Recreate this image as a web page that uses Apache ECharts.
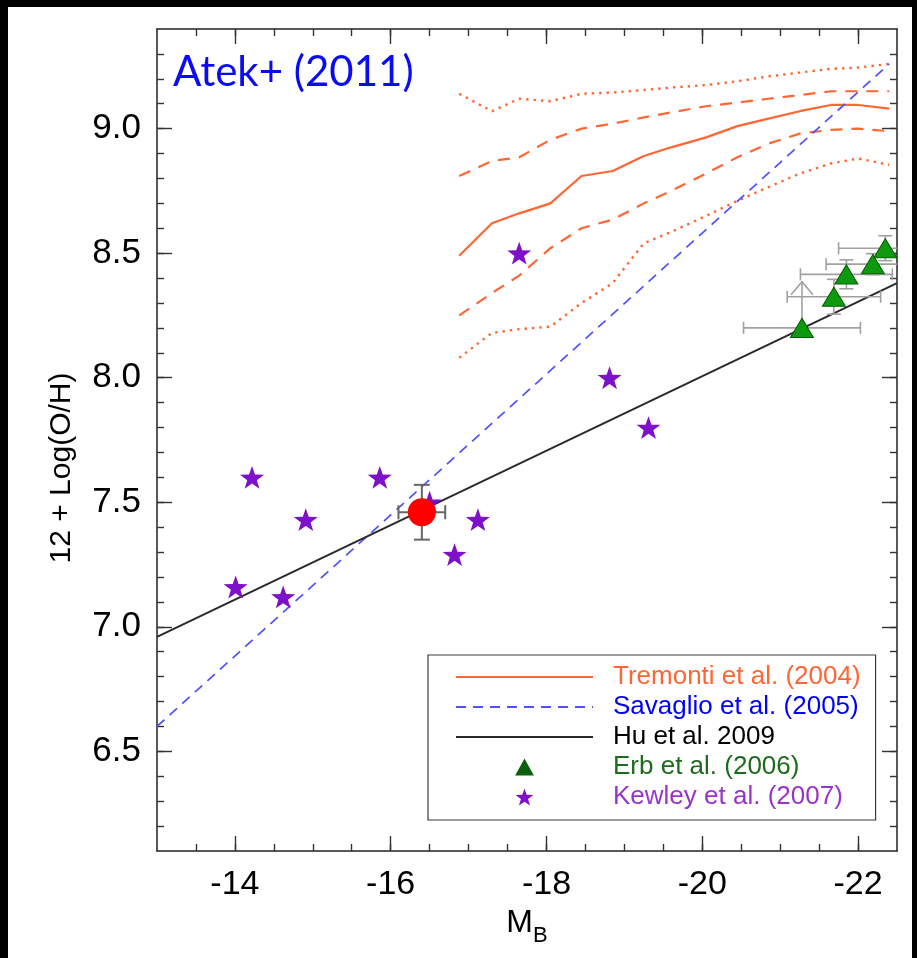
<!DOCTYPE html>
<html>
<head>
<meta charset="utf-8">
<script src="https://cdn.jsdelivr.net/npm/echarts@6/dist/echarts.min.js"></script>
<style>
  html, body { margin: 0; padding: 0; background: #000; width: 917px; height: 958px; overflow: hidden; }
  #chart { position: absolute; left: 8px; top: 7px; width: 904px; height: 951px; background: #fff; }
</style>
</head>
<body>
<div id="chart"></div>
<script>
// ---- Tick labels ----
const xTickValues = [-14, -16, -18, -20, -22];
const yTickValues = [6.5, 7.0, 7.5, 8.0, 8.5, 9.0];

// ---- Tremonti et al. (2004) SDSS relation: median, +/-1 sigma (dashed), +/-2 sigma (dotted) ----
const tremontiMB      = [-16.88, -17.3, -17.65, -18.05, -18.45, -18.85, -19.25, -19.6, -20.05, -20.45, -20.85, -21.25, -21.65, -22.0, -22.4];
const tremontiMedian  = [8.49, 8.62, 8.66, 8.70, 8.81, 8.83, 8.89, 8.925, 8.965, 9.01, 9.04, 9.07, 9.095, 9.095, 9.08];
const tremontiUp1     = [8.81, 8.87, 8.885, 8.955, 9.00, 9.02, 9.045, 9.065, 9.09, 9.105, 9.12, 9.135, 9.15, 9.15, 9.15];
const tremontiUp2     = [9.14, 9.07, 9.12, 9.11, 9.14, 9.145, 9.155, 9.165, 9.175, 9.19, 9.21, 9.225, 9.24, 9.245, 9.26];
const tremontiLo1     = [8.25, 8.34, 8.41, 8.52, 8.60, 8.635, 8.70, 8.75, 8.82, 8.885, 8.94, 8.98, 8.995, 9.0, 8.99];
const tremontiLo2     = [8.08, 8.18, 8.195, 8.205, 8.30, 8.38, 8.54, 8.585, 8.65, 8.71, 8.765, 8.82, 8.86, 8.88, 8.855];

// ---- Savaglio et al. (2005) and Hu et al. (2009) linear fits (end points) ----
const savaglioMB = [-13.0, -22.4];
const savaglioOH = [6.60, 9.26];
const huMB = [-13.0, -22.5];
const huOH = [6.96, 8.38];

// ---- Erb et al. (2006) stacks ----
const erbMB    = [-21.28, -21.69, -21.85, -22.19, -22.35];
const erbOH    = [8.20, 8.325, 8.415, 8.456, 8.52];
const erbXerr  = [0.75, 0.60, 0.59, 0.60, 0.60];
const erbYerr  = [0, 0.07, 0.058, 0.042, 0.05];
const erbLimit = [8.385, 0, 0, 0, 0];   // lower limit: arrow tip value (0 = none)

// ---- Kewley et al. (2007) ----
const kewleyMB = [-14.01, -14.22, -14.62, -14.91, -15.86, -16.50, -16.82, -17.12, -17.65, -18.81, -19.31];
const kewleyOH = [7.16, 7.60, 7.12, 7.43, 7.60, 7.50, 7.29, 7.43, 8.50, 8.00, 7.80];

// ---- Atek et al. (2011) ----
const atekMB = [-16.40];
const atekOH = [7.46];
const atekXerr = [0.30];
const atekYerr = [0.11];

const FONT = 'Liberation Sans, Arial, Helvetica, sans-serif';
const ORANGE = '#ff6633';

const zip = (xs, ys) => xs.map((x, i) => [x, ys[i]]);

// minor tick positions
const xMinorTicks = [];
for (let k = 27; k <= 44; k++) xMinorTicks.push(-k / 2);
const yMinorTicks = [];
for (let k = 62; k <= 93; k++) yMinorTicks.push(k / 10);

const STAR = 'path://M0,-10L2.35,-3.24L9.51,-3.09L3.8,1.24L5.88,8.09L0,4L-5.88,8.09L-3.8,1.24L-9.51,-3.09L-2.35,-3.24Z';
const TRIANGLE = 'path://M0,0L11,-20L22,0Z';
const NO_SYMBOL = { color: 'rgba(0,0,0,0)', borderWidth: 0 };

function xAxisDef(position, ticks, len, main) {
  return {
    type: 'value', gridIndex: 0, position: position,
    min: -22.5, max: -13, inverse: true,
    axisLine: { show: main, onZero: false, lineStyle: { color: '#222', width: 1.5 } },
    axisTick: { show: true, inside: true, length: len, customValues: ticks, lineStyle: { color: '#333', width: 1.4 } },
    axisLabel: { show: false },
    splitLine: { show: false }
  };
}
function yAxisDef(position, ticks, len, main) {
  return {
    type: 'value', gridIndex: 0, position: position,
    min: 6.1, max: 9.4,
    axisLine: { show: main, onZero: false, lineStyle: { color: '#222', width: 1.5 } },
    axisTick: { show: true, inside: true, length: len, customValues: ticks, lineStyle: { color: '#333', width: 1.4 } },
    axisLabel: { show: false },
    splitLine: { show: false }
  };
}

const xMain = xAxisDef('bottom', xTickValues, 15, true);
xMain.axisLabel = {
  show: true, customValues: xTickValues, margin: 17,
  fontFamily: FONT, fontSize: 34, color: '#000',
  formatter: v => String(v)
};
xMain.name = '{m|M}{s|B}';
xMain.nameLocation = 'middle';
xMain.nameGap = 56;
xMain.nameTextStyle = {
  rich: {
    m: { fontFamily: FONT, fontSize: 32, color: '#000', verticalAlign: 'top', lineHeight: 34 },
    s: { fontFamily: FONT, fontSize: 22, color: '#000', verticalAlign: 'top', lineHeight: 22, padding: [18, 0, 0, 0] }
  }
};

const yMain = yAxisDef('left', yTickValues, 15, true);
yMain.axisLabel = {
  show: true, customValues: yTickValues, margin: 16,
  fontFamily: FONT, fontSize: 35, color: '#000',
  formatter: v => v.toFixed(1)
};

// error bar renderer: horizontal + vertical bars with caps, optional lower-limit arrow
function errorBars(color, width, cap) {
  return function (params, api) {
    const m = api.value(0), oh = api.value(1), dx = api.value(2), dy = api.value(3), lim = api.value(4);
    const c = api.coord([m, oh]);
    const pL = api.coord([m + dx, oh]);
    const pR = api.coord([m - dx, oh]);
    const style = { stroke: color, lineWidth: width, fill: null };
    const kids = [
      { type: 'line', shape: { x1: pL[0], y1: c[1], x2: pR[0], y2: c[1] }, style },
      { type: 'line', shape: { x1: pL[0], y1: c[1] - cap, x2: pL[0], y2: c[1] + cap }, style },
      { type: 'line', shape: { x1: pR[0], y1: c[1] - cap, x2: pR[0], y2: c[1] + cap }, style }
    ];
    if (dy > 0) {
      const pT = api.coord([m, oh + dy]);
      const pB = api.coord([m, oh - dy]);
      kids.push(
        { type: 'line', shape: { x1: c[0], y1: pT[1], x2: c[0], y2: pB[1] }, style },
        { type: 'line', shape: { x1: c[0] - cap - 1, y1: pT[1], x2: c[0] + cap + 1, y2: pT[1] }, style },
        { type: 'line', shape: { x1: c[0] - cap - 1, y1: pB[1], x2: c[0] + cap + 1, y2: pB[1] }, style }
      );
    }
    if (lim > 0) {
      const pT = api.coord([m, lim]);
      kids.push(
        { type: 'line', shape: { x1: c[0], y1: c[1], x2: c[0], y2: pT[1] }, style },
        { type: 'polyline', shape: { points: [[c[0] - 11, pT[1] + 13], [c[0], pT[1]], [c[0] + 11, pT[1] + 13]] }, style }
      );
    }
    return { type: 'group', children: kids };
  };
}

const chart = echarts.init(document.getElementById('chart'), null, { renderer: 'canvas' });

chart.setOption({
  animation: false,
  backgroundColor: '#fff',
  grid: { left: 149, right: 15, top: 22, bottom: 107, containLabel: false },
  xAxis: [
    xMain,
    xAxisDef('bottom', xMinorTicks, 7, false),
    xAxisDef('top', xTickValues, 15, true),
    xAxisDef('top', xMinorTicks, 7, false)
  ],
  yAxis: [
    yMain,
    yAxisDef('left', yMinorTicks, 7, false),
    yAxisDef('right', yTickValues, 15, true),
    yAxisDef('right', yMinorTicks, 7, false)
  ],
  legend: {
    orient: 'vertical', left: 420, top: 648,
    padding: [9, 15, 10, 27],
    itemWidth: 137, itemHeight: 17, itemGap: 4,
    borderColor: '#3a3a3a', borderWidth: 1.2,
    backgroundColor: '#fff',
    selectedMode: false,
    symbolKeepAspect: true,
    textStyle: { fontFamily: FONT, fontSize: 26, lineHeight: 26, padding: [0, 0, 0, 15] },
    data: [
      { name: 'Tremonti et al. (2004)', textStyle: { color: ORANGE }, itemStyle: NO_SYMBOL },
      { name: 'Savaglio et al. (2005)', textStyle: { color: '#0000ff' }, itemStyle: NO_SYMBOL },
      { name: 'Hu et al. 2009', textStyle: { color: '#000' }, itemStyle: NO_SYMBOL },
      { name: 'Erb et al. (2006)', textStyle: { color: '#1d6b1d' }, itemStyle: { color: '#0b5e0b', borderWidth: 0 } },
      { name: 'Kewley et al. (2007)', textStyle: { color: '#9933cc' } }
    ]
  },
  graphic: [
    {
      type: 'text', left: 165, top: 44, z: 10,
      style: { text: 'Atek+ (2011)', fontFamily: 'Lato, Liberation Sans, sans-serif', fontSize: 42, fill: '#0a0af5' }
    },
    {
      type: 'text', x: 54, y: 461, rotation: Math.PI / 2, z: 10,
      style: { text: '12 + Log(O/H)', fontFamily: FONT, fontSize: 30, fill: '#000', align: 'center', verticalAlign: 'middle' }
    }
  ],
  series: [
    { name: 'Tremonti et al. (2004)', type: 'line', data: zip(tremontiMB, tremontiMedian), symbol: 'none',
      lineStyle: { color: ORANGE, width: 2.2 }, itemStyle: { color: ORANGE }, z: 3 },
    { name: 'Tremonti +1σ', type: 'line', data: zip(tremontiMB, tremontiUp1), symbol: 'none',
      lineStyle: { color: ORANGE, width: 2.2, type: [12, 9] }, z: 3 },
    { name: 'Tremonti -1σ', type: 'line', data: zip(tremontiMB, tremontiLo1), symbol: 'none',
      lineStyle: { color: ORANGE, width: 2.2, type: [12, 9] }, z: 3 },
    { name: 'Tremonti +2σ', type: 'line', data: zip(tremontiMB, tremontiUp2), symbol: 'none',
      lineStyle: { color: ORANGE, width: 2.4, type: [2.4, 5] }, z: 3 },
    { name: 'Tremonti -2σ', type: 'line', data: zip(tremontiMB, tremontiLo2), symbol: 'none',
      lineStyle: { color: ORANGE, width: 2.4, type: [2.4, 5] }, z: 3 },
    { name: 'Savaglio et al. (2005)', type: 'line', data: zip(savaglioMB, savaglioOH), symbol: 'none',
      lineStyle: { color: '#5050ff', width: 1.7, type: [10, 7] }, itemStyle: { color: '#5050ff' }, z: 3 },
    { name: 'Hu et al. 2009', type: 'line', data: zip(huMB, huOH), symbol: 'none',
      lineStyle: { color: '#2a2a2a', width: 2 }, itemStyle: { color: '#2a2a2a' }, z: 3 },
    { name: 'Erb error bars', type: 'custom', clip: true, z: 4,
      renderItem: errorBars('#a0a0a0', 1.6, 6),
      data: erbMB.map((m, i) => [m, erbOH[i], erbXerr[i], erbYerr[i], erbLimit[i]]) },
    { name: 'Erb et al. (2006)', type: 'scatter', data: zip(erbMB, erbOH), symbol: TRIANGLE, symbolSize: [23, 21],
      symbolKeepAspect: true,
      itemStyle: { color: '#0e9a0e', borderColor: '#0a5a0a', borderWidth: 1, opacity: 1 }, z: 5 },
    { name: 'Kewley et al. (2007)', type: 'scatter', data: zip(kewleyMB, kewleyOH), symbol: STAR, symbolSize: 24,
      symbolKeepAspect: true, itemStyle: { color: '#7d10c8', opacity: 1 }, z: 5 },
    { name: 'Atek error bars', type: 'custom', clip: true, z: 6,
      renderItem: errorBars('#666', 2, 7),
      data: atekMB.map((m, i) => [m, atekOH[i], atekXerr[i], atekYerr[i], 0]) },
    { name: 'Atek et al. (2011)', type: 'scatter', data: zip(atekMB, atekOH), symbol: 'circle', symbolSize: 28,
      itemStyle: { color: '#ff0000', opacity: 1 }, z: 7 }
  ]
});
</script>
</body>
</html>
